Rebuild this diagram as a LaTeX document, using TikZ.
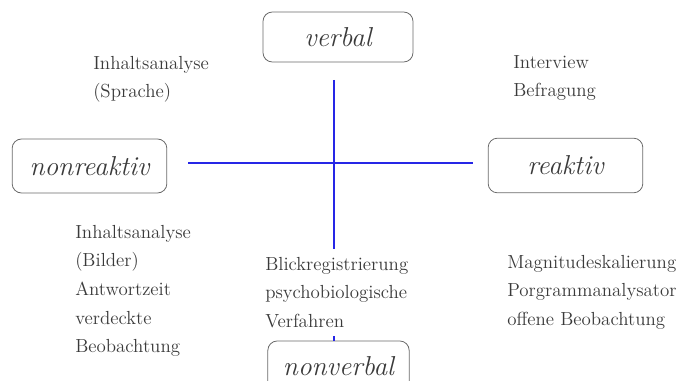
\documentclass[tikz,border=0pt]{standalone}
\usepackage{xcolor}
\usepackage{tikz}
\usetikzlibrary{positioning}

\definecolor{textgray}{HTML}{3A3A3A}
\definecolor{boxgray}{HTML}{6A6A6A}
\definecolor{axisblue}{HTML}{2626E6}

\tikzset{
	pole/.style={draw=boxgray, semithick, rounded corners=7pt, text=textgray,
		font=\fontsize{20.5}{22}\selectfont\itshape, inner sep=0pt},
	methods/.style={anchor=north west, align=left, inner sep=0pt, text=textgray,
		font=\fontsize{14.2}{21.4}\selectfont},
	axis/.style={axisblue, line width=0.9pt}
}

\begin{document}
\begin{tikzpicture}[x=0.75pt, y=-0.75pt]
		\clip (0,0) rectangle (684,381);
		\node[pole, minimum width=112.5pt, minimum height=37.5pt] (verbal) at (338,37) {verbal};
		\node[pole, minimum width=116pt, minimum height=40.5pt] (nonreaktiv) at (89.5,166) {nonreaktiv};
		\node[pole, minimum width=116pt, minimum height=41pt] (reaktiv) at (565.5,165.5) {reaktiv};
		\node[pole, minimum width=106pt, minimum height=37.5pt] (nonverbal) at (338.5,366) {nonverbal};
		\coordinate (vtop) at (334,80);
		\coordinate (hleft) at (188,163);
		\coordinate (hright) at (473,163);
		% the two axes
		\draw[axis] (hleft) -- (hright);
		\draw[axis] (vtop) -- (vtop |- nonverbal.north);
		% methods in the four fields
		\node[methods] (sprache) at (93,56) {Inhaltsanalyse\\(Sprache)};
		\node[methods] (befragung) at (513,55) {Interview\\Befragung};
		\node[methods] (bilder) at (75,225) {Inhaltsanalyse\\(Bilder)\\Antwortzeit\\verdeckte\\Beobachtung};
		\node[methods, fill=white, inner ysep=6pt] (blick) at (265,249) {Blickregistrierung\\psychobiologische\\Verfahren};
		\node[methods] (skalierung) at (507,255) {Magnitudeskalierung\\Porgrammanalysator\\offene Beobachtung};
	\end{tikzpicture}
\end{document}
